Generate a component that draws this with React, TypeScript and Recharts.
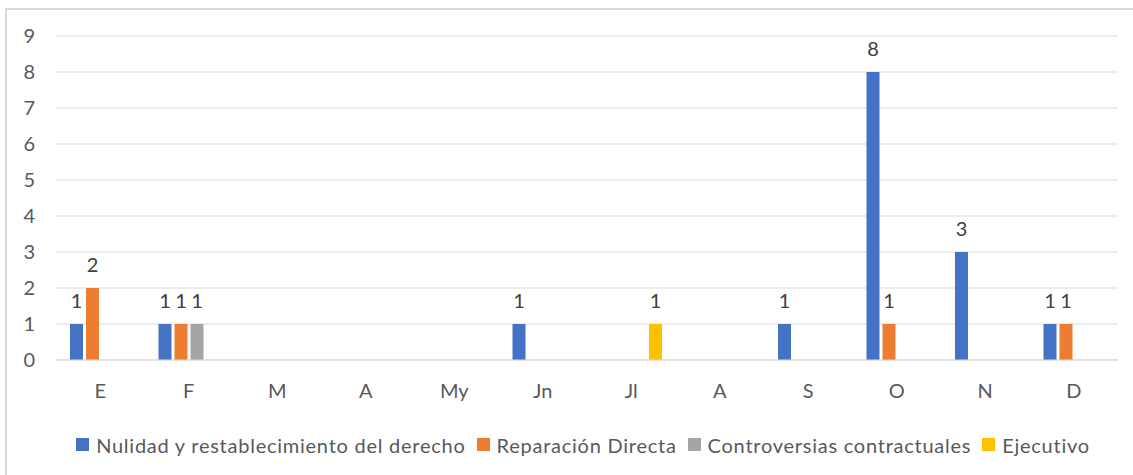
import { BarChart, Bar, XAxis, YAxis, CartesianGrid, Legend, LabelList } from 'recharts';

// meses (la "A" se repite: abril y agosto)
const MONTHS = ['E', 'F', 'M', 'A', 'My', 'Jn', 'Jl', 'A', 'S', 'O', 'N', 'D'];

const NULIDAD = [1, 1, 0, 0, 0, 1, 0, 0, 1, 8, 3, 1];
const REPARACION = [2, 1, 0, 0, 0, 0, 0, 0, 0, 1, 0, 1];
const CONTROVERSIAS = [0, 1, 0, 0, 0, 0, 0, 0, 0, 0, 0, 0];
const EJECUTIVO = [0, 0, 0, 0, 0, 0, 1, 0, 0, 0, 0, 0];

const Y_TICKS = [0, 1, 2, 3, 4, 5, 6, 7, 8, 9];

const SERIES = [
  { key: 'nulidad', name: 'Nulidad y restablecimiento del derecho', color: '#4472C4', values: NULIDAD },
  { key: 'reparacion', name: 'Reparación Directa', color: '#ED7D31', values: REPARACION },
  { key: 'controversias', name: 'Controversias contractuales', color: '#A5A5A5', values: CONTROVERSIAS },
  { key: 'ejecutivo', name: 'Ejecutivo', color: '#FFC000', values: EJECUTIVO },
];

const FONT = 'Lato, "Liberation Sans", sans-serif';
const TEXT = '#595959';
const GRID = '#d9d9d9';

const data = MONTHS.map((m, i) => {
  const row: Record<string, string | number> = { mes: m };
  SERIES.forEach((s) => {
    row[s.key] = s.values[i];
  });
  return row;
});

// leyenda propia, en el orden de las series (recharts la ordena si no)
function LegendContent() {
  return (
    <div
      style={{
        height: 85,
        boxSizing: 'border-box',
        paddingTop: 24,
        paddingLeft: 48,
        display: 'flex',
        justifyContent: 'center',
        gap: 11,
        fontFamily: FONT,
        fontSize: 20,
        letterSpacing: 0.75,
        lineHeight: '20px',
        color: TEXT,
      }}
    >
      {SERIES.map((s) => (
        <span key={s.key} style={{ display: 'flex', alignItems: 'center', whiteSpace: 'nowrap' }}>
          <span style={{ width: 13, height: 13, background: s.color, marginRight: 7, display: 'inline-block' }} />
          {s.name}
        </span>
      ))}
    </div>
  );
}

export default function App() {
  return (
    <div style={{ position: 'absolute', left: 0, top: 0, width: 1133, height: 475, background: '#fff' }}>
      <div
        style={{
          position: 'absolute',
          left: 5,
          top: 8,
          right: 0,
          bottom: 0,
          borderTop: `2px solid ${GRID}`,
          borderLeft: `2px solid ${GRID}`,
        }}
      />
      <BarChart
        width={1133}
        height={475}
        data={data}
        margin={{ top: 36, right: 15, left: 0, bottom: 0 }}
        barSize={13}
        barGap={3}
        style={{ fontFamily: FONT }}
      >
        <CartesianGrid stroke={GRID} vertical={false} />
        <XAxis
          dataKey="mes"
          height={30}
          tickSize={0}
          tickMargin={24}
          axisLine={{ stroke: GRID }}
          tickLine={false}
          tick={{ fill: TEXT, fontSize: 20 }}
          interval={0}
        />
        <YAxis
          width={56}
          domain={[0, 9]}
          ticks={Y_TICKS}
          tickSize={0}
          tickMargin={21}
          axisLine={false}
          tickLine={false}
          tick={{ fill: TEXT, fontSize: 20 }}
        />
        <Legend verticalAlign="bottom" content={<LegendContent />} wrapperStyle={{ height: 85 }} />
        {SERIES.map((s) => (
          <Bar key={s.key} dataKey={s.key} name={s.name} fill={s.color} isAnimationActive={false}>
            <LabelList
              dataKey={s.key}
              position="top"
              offset={16}
              fill="#404040"
              fontSize={20}
              formatter={(v: any) => (v ? String(v) : '')}
            />
          </Bar>
        ))}
      </BarChart>
    </div>
  );
}
